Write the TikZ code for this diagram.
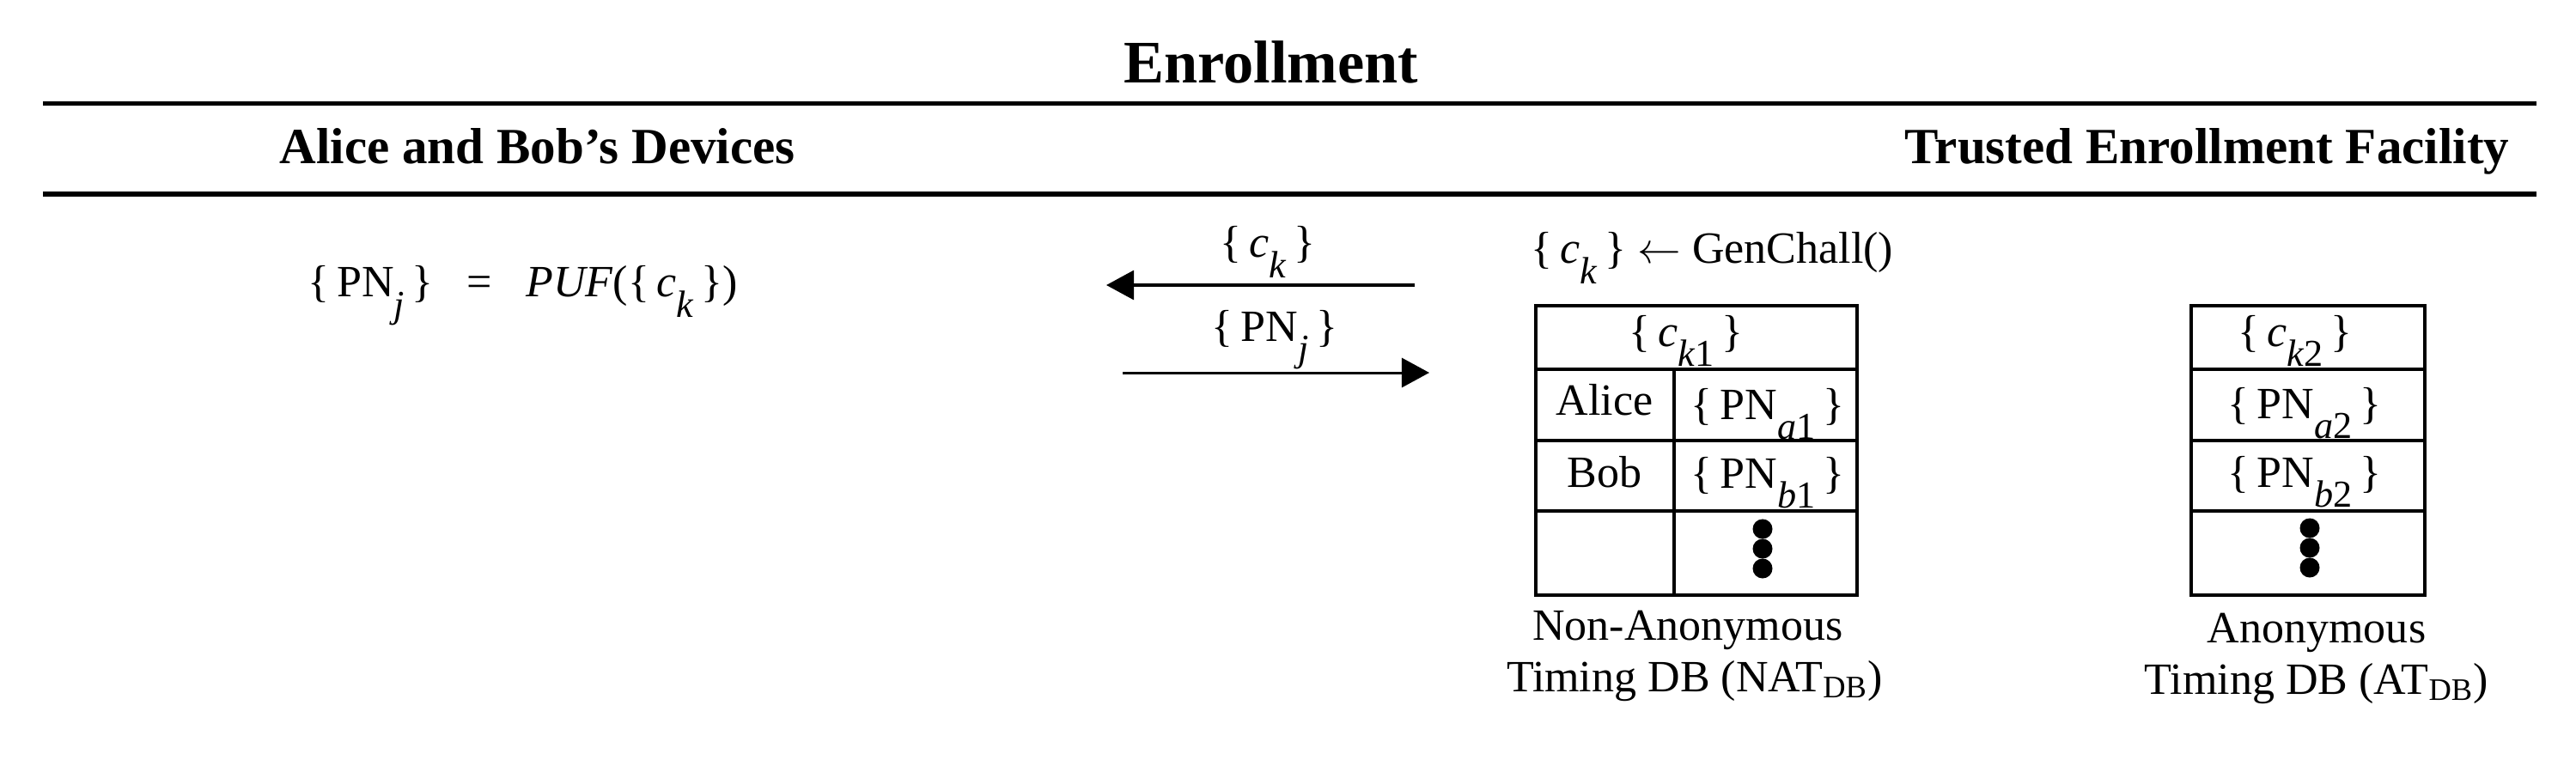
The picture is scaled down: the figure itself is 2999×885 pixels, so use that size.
\documentclass[tikz,border=0pt]{standalone}
\usepackage{fontspec}
\setmainfont{Liberation Serif}
\usepackage{graphicx}
\usetikzlibrary{arrows.meta}

\newcommand{\low}[1]{\raisebox{-0.45em}{\scalebox{0.85}{#1}}}
\newcommand{\grp}[1]{\{\,#1\,\}}

\tikzset{
    title/.style={inner sep=0pt, font=\fontsize{20}{24}\selectfont\bfseries},
    header/.style={inner sep=0pt, font=\fontsize{16.8}{20}\selectfont\bfseries},
    txt/.style={inner sep=0pt, font=\fontsize{14.8}{18}\selectfont},
    rule/.style={line width=0.05cm},
    cell/.style={line width=0.035cm},
    msg/.style={line width=0.03cm, -{Triangle[length=0.32cm, width=0.34cm]}}
}

\begin{document}
\begin{tikzpicture}[x=0.01cm, y=-0.01cm]
            \useasboundingbox (0,0) rectangle (2999,885);

            % title and rules
            \node[title, anchor=base] (enroll) at (1480,97) {Enrollment};
            \draw[rule] (50,121) -- (2953,121);
            \draw[rule] (50,226) -- (2953,226);
            \node[header, anchor=base west] (devices) at (325,191) {Alice and Bob's Devices};
            \node[header, anchor=base east] (facility) at (2922,191) {Trusted Enrollment Facility};

            % device side
            \node[txt, anchor=base west] (puf) at (358,346)
                {\grp{PN\low{\textit{j}}}\hspace{0.75em}=\hspace{0.75em}\textit{PUF}(\grp{\textit{c}\low{\textit{k}}})};

            % messages
            \coordinate (ckfrom) at (1647,332);
            \coordinate (ckto) at (1288,332);
            \coordinate (pnfrom) at (1307,434);
            \coordinate (pnto) at (1664,434);
            \draw[msg] (ckfrom) -- (ckto);
            \draw[msg] (pnfrom) -- (pnto);
            \node[txt, anchor=base] (cklbl) at (1476,300) {\grp{\textit{c}\low{\textit{k}}}};
            \node[txt, anchor=base] (pnlbl) at (1484,397) {\grp{PN\low{\textit{j}}}};

            % facility side
            \node[txt, anchor=base west] (gen) at (1782,307)
                {\grp{\textit{c}\low{\textit{k}}} $\leftarrow$ GenChall()};

            % non-anonymous table
            \draw[cell] (1788,356) rectangle (2162,693);
            \foreach \y in {430,513,595}
                \draw[cell] (1788,\y) -- (2162,\y);
            \draw[cell] (1949,430) -- (1949,693);
            \node[txt, anchor=base] (ck1) at (1963,403) {\grp{\textit{c}\low{\textit{k}1}}};
            \node[txt, anchor=base] (alice) at (1868,483) {Alice};
            \node[txt, anchor=base] (pna1) at (2058,488) {\grp{PN\low{\textit{a}1}}};
            \node[txt, anchor=base] (bob) at (1868,567) {Bob};
            \node[txt, anchor=base] (pnb1) at (2058,568) {\grp{PN\low{\textit{b}1}}};
            \foreach \y in {616,639,662}
                \fill (2052,\y) circle (0.115cm);
            \node[txt, anchor=base] (natname) at (1965,745) {Non-Anonymous};
            \node[txt, anchor=base] (natdb) at (1973,805) {Timing DB (NAT\textsubscript{DB})};

            % anonymous table
            \draw[cell] (2551,356) rectangle (2823,693);
            \foreach \y in {430,513,595}
                \draw[cell] (2551,\y) -- (2823,\y);
            \node[txt, anchor=base] (ck2) at (2672,403) {\grp{\textit{c}\low{\textit{k}2}}};
            \node[txt, anchor=base] (pna2) at (2683,487) {\grp{PN\low{\textit{a}2}}};
            \node[txt, anchor=base] (pnb2) at (2683,567) {\grp{PN\low{\textit{b}2}}};
            \foreach \y in {615,638,661}
                \fill (2689,\y) circle (0.115cm);
            \node[txt, anchor=base] (atname) at (2697,748) {Anonymous};
            \node[txt, anchor=base] (atdb) at (2697,808) {Timing DB (AT\textsubscript{DB})};
\end{tikzpicture}
\end{document}
